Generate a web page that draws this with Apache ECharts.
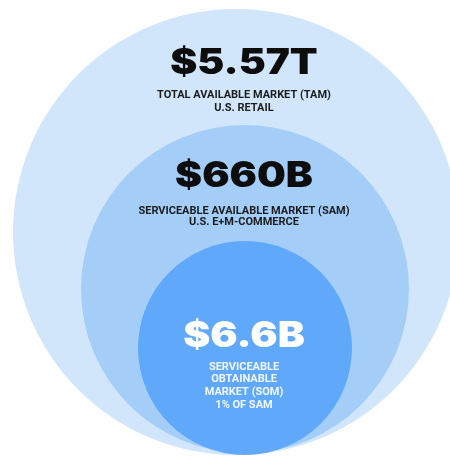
<!DOCTYPE html>
<html>
<head>
<meta charset="utf-8">
<script src="https://cdn.jsdelivr.net/npm/echarts@6/dist/echarts.min.js"></script>
<style>
html,body{margin:0;padding:0;background:#fff;}
#chart{width:450px;height:457px;}
</style>
</head>
<body>
<div id="chart"></div>
<script>
// ---- data ----
const segments = ['TAM', 'SAM', 'SOM'];
const marketSizeBillions = [5570, 660, 6.6];
const valueLabels = ['$5.57T', '$660B', '$6.6B'];
const descriptions = [
  ['TOTAL AVAILABLE MARKET (TAM)', 'U.S. RETAIL'],
  ['SERVICEABLE AVAILABLE MARKET (SAM)', 'U.S. E+M-COMMERCE'],
  ['SERVICEABLE', 'OBTAINABLE', 'MARKET (SOM)', '1% OF SAM']
];

// ---- layout / style (not data) ----
const layout = [
  { cx: 236, cy: 232, r: 223, titleY: 63, descY: 95, lh: 13.5, fill: '#d1e6fb', titleColor: '#0d0d0d', descColor: '#1c1c1c' },
  { cx: 245, cy: 289, r: 164, titleY: 176, descY: 211, lh: 11.5, fill: '#a4cdf8', titleColor: '#0d0d0d', descColor: '#1c1c1c' },
  { cx: 245, cy: 348, r: 107, titleY: 336, descY: 367, lh: 12.7, fill: '#5fa8fa', titleColor: '#ffffff', descColor: '#f2f7ff' }
];
const textX = 244;

const chart = echarts.init(document.getElementById('chart'), null, { renderer: 'canvas' });

chart.setOption({
  animation: false,
  series: [{
    type: 'custom',
    coordinateSystem: 'none',
    data: segments.map((s, i) => ({ name: s, value: marketSizeBillions[i] })),
    renderItem: function (params, api) {
      const i = params.dataIndex;
      const L = layout[i];
      const children = [{
        type: 'circle',
        shape: { cx: L.cx, cy: L.cy, r: L.r },
        style: { fill: L.fill }
      }, {
        type: 'text',
        x: textX, y: L.titleY,
        scaleX: 1.16,
        style: {
          text: valueLabels[i],
          fill: L.titleColor,
          font: '900 35px Inter, "Noto Sans", sans-serif',
          align: 'center', verticalAlign: 'middle'
        }
      }];
      descriptions[i].forEach((line, k) => {
        children.push({
          type: 'text',
          x: textX, y: L.descY + k * L.lh,
          style: {
            text: line,
            fill: L.descColor,
            font: 'bold 11px Roboto, sans-serif',
            align: 'center', verticalAlign: 'middle'
          }
        });
      });
      return { type: 'group', children: children };
    }
  }]
});
</script>
</body>
</html>
